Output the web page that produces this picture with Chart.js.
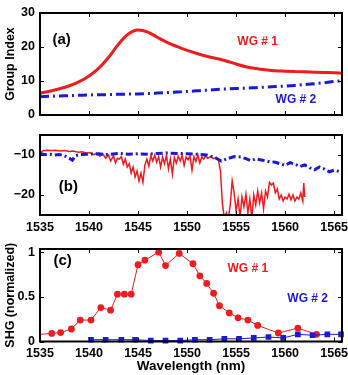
<!DOCTYPE html>
<html><head><meta charset="utf-8">
<script src="https://cdn.jsdelivr.net/npm/chart.js@4.4.1/dist/chart.umd.min.js"></script>
<style>
html,body{margin:0;padding:0;background:#fff;width:348px;height:375px;overflow:hidden}
canvas{position:absolute;left:0}
</style></head><body>
<canvas id="ca" width="348" height="125" style="top:0px"></canvas>
<canvas id="cb" width="348" height="110" style="top:125px"></canvas>
<canvas id="cc" width="348" height="140" style="top:235px"></canvas>
<script>
// ---------- DATA ----------
const xTickValues = [1535, 1540, 1545, 1550, 1555, 1560, 1565];

// (a) group index
const wavelengthA = [1535,1536,1537,1538,1539,1540,1541,1542,1543,1544,1545,1546,1547,1548,1549,1550,1551,1552,1553,1554,1555,1556,1557,1558,1559,1560,1561,1562,1563,1564,1565,1565.8];
const groupIndexWG1 = [6.4,7.0,7.7,8.6,9.8,11.5,13.8,17.0,20.8,23.8,25.0,24.4,22.8,21.3,20.1,19.0,18.1,17.3,16.6,15.9,15.0,14.2,13.7,13.3,13.0,12.9,12.8,12.7,12.6,12.5,12.4,12.3];
const groupIndexWG2 = [5.4,5.5,5.6,5.7,5.8,5.9,5.95,6.0,6.1,6.15,6.2,6.3,6.45,6.6,6.75,6.9,7.1,7.3,7.5,7.65,7.8,7.9,8.05,8.2,8.35,8.5,8.7,8.95,9.2,9.5,9.85,10.1];
const yTicksA = [0, 10, 20, 30];

// (b) transmission (dB)
const wavelengthB1 = [1535.0,1535.3,1535.7,1536.2,1536.6,1537.0,1537.5,1538.0,1538.4,1538.9,1539.3,1539.7,1540.1,1540.5,1540.8,1541.1,1541.4,1541.7,1542.0,1542.2,1542.5,1542.7,1542.9,1543.1,1543.3,1543.5,1543.7,1543.9,1544.1,1544.3,1544.5,1544.7,1544.9,1545.1,1545.3,1545.5,1545.7,1545.9,1546.1,1546.3,1546.5,1546.7,1546.9,1547.1,1547.3,1547.5,1547.7,1547.9,1548.1,1548.3,1548.5,1548.7,1548.9,1549.1,1549.3,1549.5,1549.7,1549.9,1550.1,1550.3,1550.5,1550.7,1550.9,1551.1,1551.3,1551.5,1551.7,1551.9,1552.1,1552.4,1552.7,1553.0,1553.2,1553.4,1553.6,1553.8,1554.0,1554.2,1554.4,1554.6,1554.8,1555.0,1555.2,1555.4,1555.6,1555.8,1556.0,1556.2,1556.4,1556.6,1556.8,1557.0,1557.2,1557.4,1557.6,1557.8,1558.0,1558.2,1558.4,1558.6,1558.8,1559.0,1559.2,1559.4,1559.6,1559.8,1560.0,1560.2,1560.4,1560.6,1560.8,1561.0,1561.2,1561.4,1561.6,1561.8,1561.9,1562.0];
const transmissionWG1 = [-9.6,-8.9,-8.8,-8.9,-8.8,-9.0,-8.9,-9.1,-9.0,-9.3,-9.2,-9.5,-9.4,-9.9,-9.5,-10.3,-9.7,-10.8,-10.0,-11.5,-10.2,-12.0,-10.8,-11.0,-10.4,-12.3,-11.0,-13.0,-12.2,-14.5,-13.0,-15.5,-14.0,-16.5,-14.5,-16.8,-12.5,-11.0,-12.8,-10.2,-11.5,-10.0,-11.8,-10.4,-13.0,-10.5,-12.2,-10.0,-13.5,-11.0,-14.8,-10.6,-12.0,-10.3,-11.5,-10.1,-12.6,-10.5,-11.2,-10.2,-13.8,-10.4,-11.6,-10.0,-12.0,-10.5,-11.0,-10.2,-10.8,-10.4,-10.9,-10.6,-11.2,-14.0,-22.0,-26.0,-24.5,-26.0,-22.5,-16.5,-19.5,-24.0,-21.0,-25.5,-20.5,-23.0,-19.8,-24.5,-21.0,-25.8,-20.0,-22.5,-19.0,-22.0,-19.5,-23.5,-19.0,-20.5,-16.8,-17.5,-17.0,-19.5,-18.5,-21.0,-20.0,-21.5,-20.5,-21.0,-19.8,-21.2,-20.0,-21.5,-20.5,-21.0,-19.5,-21.5,-17.0,-20.5];
const wavelengthB2 = [1535,1535.5,1536,1536.5,1537,1537.5,1538,1538.3,1538.6,1539,1540,1541,1542,1543,1544,1545,1546,1547,1548,1549,1550,1551,1552,1552.8,1553.5,1554,1554.8,1555.5,1556,1556.5,1557,1557.7,1558.3,1559,1559.5,1560,1560.5,1561,1561.5,1562,1562.5,1563,1563.5,1564,1564.5,1565,1565.8];
const transmissionWG2 = [-9.6,-9.9,-9.8,-10.0,-9.9,-10.2,-10.8,-11.3,-10.2,-9.9,-9.8,-9.7,-9.9,-9.6,-9.8,-9.7,-9.8,-9.6,-9.5,-9.6,-9.7,-9.8,-10.0,-10.6,-11.5,-11.0,-10.4,-10.5,-10.9,-11.4,-11.0,-11.3,-11.6,-11.8,-12.2,-12.6,-11.9,-12.3,-12.9,-12.5,-13.2,-13.7,-13.0,-13.5,-14.2,-13.8,-14.3];
const yTicksB = [-20, -10];

// (c) SHG (normalized)
const wavelengthC1 = [1535.0,1536.2,1537.1,1538.2,1539.1,1540.2,1541.2,1542.2,1542.9,1543.6,1544.3,1545.0,1545.7,1547.1,1547.8,1549.2,1550.6,1551.3,1552.0,1552.7,1553.3,1554.3,1555.2,1556.2,1557.2,1559.3,1561.3,1563.2];
const shgWG1 = [0.08,0.09,0.10,0.14,0.24,0.24,0.38,0.35,0.53,0.53,0.53,0.86,0.91,1.0,0.85,0.985,0.87,0.735,0.65,0.54,0.40,0.32,0.265,0.24,0.18,0.095,0.15,0.08];
const wavelengthC2 = [1540.2,1541.7,1543.3,1544.7,1546.3,1547.8,1549.3,1550.8,1552.3,1553.8,1555.3,1556.8,1558.3,1559.8,1561.3,1562.8,1564.3,1565.7];
const shgWG2 = [0.02,0.02,0.02,0.02,0.01,0.01,0.01,0.02,0.02,0.03,0.03,0.04,0.05,0.04,0.08,0.07,0.08,0.08];
const yTicksC = [0, 0.5, 1];

// text
const panelLabels = ['(a)', '(b)', '(c)'];
const seriesNames = ['WG # 1', 'WG # 2'];
const yTitles = ['Group Index', 'SHG (normalized)'];
const xTitle = 'Wavelength (nm)';

// ---------- STYLE / HELPERS ----------
const FONT = "'Liberation Sans', Arial, Helvetica, sans-serif";
const RED = '#ee1c1c';
const BLUE = '#1a1ad6';
Chart.defaults.font.family = FONT;
Chart.defaults.font.weight = 'bold';
Chart.defaults.font.size = 12;
Chart.defaults.color = '#000';

const pts = (xs, ys) => xs.map((x, i) => ({x: x, y: ys[i]}));
const minus = v => (v < 0 ? '\u2212' + Math.abs(v) : String(v));

const framePlugin = {
  id: 'frame',
  afterDraw(chart) {
    const {ctx, chartArea: a, scales} = chart;
    ctx.save();
    ctx.strokeStyle = '#000';
    ctx.lineWidth = 1;
    const L = 4;
    ctx.beginPath();
    scales.x.ticks.forEach(t => {
      const p = Math.round(scales.x.getPixelForValue(t.value)) + 0.5;
      ctx.moveTo(p, a.bottom); ctx.lineTo(p, a.bottom - L);
      ctx.moveTo(p, a.top); ctx.lineTo(p, a.top + L);
    });
    scales.y.ticks.forEach(t => {
      const p = Math.round(scales.y.getPixelForValue(t.value)) + 0.5;
      ctx.moveTo(a.left, p); ctx.lineTo(a.left + L, p);
      ctx.moveTo(a.right, p); ctx.lineTo(a.right - L, p);
    });
    ctx.stroke();
    ctx.lineWidth = 2;
    ctx.strokeRect(a.left, a.top, a.right - a.left, a.bottom - a.top);
    ctx.restore();
  }
};
const annotPlugin = {
  id: 'annot',
  afterDatasetsDraw(chart, args, opts) {
    const {ctx, scales} = chart;
    (opts.items || []).forEach(it => {
      ctx.save();
      ctx.font = 'bold ' + it.size + 'px ' + FONT;
      ctx.fillStyle = it.color;
      ctx.textAlign = 'center';
      ctx.textBaseline = 'middle';
      ctx.fillText(it.text, scales.x.getPixelForValue(it.x), scales.y.getPixelForValue(it.y));
      ctx.restore();
    });
  }
};

function xScale(height, showLabels, title) {
  return {
    type: 'linear', min: 1535, max: 1565.8,
    afterBuildTicks: s => { s.ticks = xTickValues.map(v => ({value: v})); },
    grid: {display: false, drawTicks: false, tickLength: 0},
    border: {display: false},
    ticks: {display: showLabels, padding: 5, maxRotation: 0, autoSkip: false, font: {size: 12.5, weight: 'bold'}, color: '#000',
            callback: v => String(v)},
    title: title ? {display: true, text: title, font: {size: 13.5, weight: 'bold'}, color: '#000', padding: {top: 0, bottom: 1}} : {display: false},
    afterFit: s => { s.height = height; s.paddingLeft = 0; s.paddingRight = 0; }
  };
}
function yScale(min, max, ticks, title, fmt) {
  return {
    type: 'linear', position: 'left', min: min, max: max,
    afterBuildTicks: s => { s.ticks = ticks.map(v => ({value: v})); },
    grid: {display: false, drawTicks: false, tickLength: 0},
    border: {display: false},
    ticks: {padding: 5, font: {size: 12.5, weight: 'bold'}, color: '#000', callback: fmt || (v => String(v))},
    title: title ? {display: true, text: title, font: {size: 12.5, weight: 'bold'}, color: '#000', padding: {top: 3, bottom: 0}} : {display: false},
    afterFit: s => { s.width = 40; s.paddingTop = 0; s.paddingBottom = 0; }
  };
}
const common = {
  responsive: false, animation: false, devicePixelRatio: 1,
  events: [],
  elements: {point: {radius: 0}},
};

// ---------- (a) ----------
new Chart(document.getElementById('ca'), {
  type: 'line',
  data: {datasets: [
    {data: pts(wavelengthA, groupIndexWG2), borderColor: BLUE, borderWidth: 3, borderDash: [9, 4, 2, 4], cubicInterpolationMode: 'monotone', pointRadius: 0},
    {data: pts(wavelengthA, groupIndexWG1), borderColor: RED, borderWidth: 3, cubicInterpolationMode: 'monotone', pointRadius: 0}
  ]},
  options: Object.assign({}, common, {
    layout: {padding: {top: 13, right: 6, bottom: 10, left: 0}},
    scales: {x: xScale(0, false, null), y: yScale(0, 30, yTicksA, yTitles[0])},
    plugins: {legend: {display: false}, tooltip: {enabled: false},
      annot: {items: [
        {text: panelLabels[0], x: 1537.2, y: 22.1, color: '#000', size: 15},
        {text: seriesNames[0], x: 1557.2, y: 21.6, color: RED, size: 12},
        {text: seriesNames[1], x: 1561.1, y: 4.4, color: BLUE, size: 12}
      ]}}
  }),
  plugins: [framePlugin, annotPlugin]
});

// ---------- (b) ----------
new Chart(document.getElementById('cb'), {
  type: 'line',
  data: {datasets: [
    {data: pts(wavelengthB2, transmissionWG2), borderColor: BLUE, borderWidth: 3, borderDash: [7, 3, 2, 3], tension: 0, pointRadius: 0},
    {data: pts(wavelengthB1, transmissionWG1), borderColor: RED, borderWidth: 1.5, tension: 0, pointRadius: 0}
  ]},
  options: Object.assign({}, common, {
    layout: {padding: {top: 10, right: 6, bottom: 0, left: 0}},
    scales: {x: xScale(20, true, null), y: yScale(-25, -5, yTicksB, null, minus)},
    plugins: {legend: {display: false}, tooltip: {enabled: false},
      annot: {items: [
        {text: panelLabels[1], x: 1537.9, y: -18, color: '#000', size: 15}
      ]}}
  }),
  plugins: [framePlugin, annotPlugin]
});

// ---------- (c) ----------
new Chart(document.getElementById('cc'), {
  type: 'line',
  data: {datasets: [
    {data: pts(wavelengthC2, shgWG2), borderColor: BLUE, backgroundColor: BLUE, borderWidth: 1, tension: 0,
     pointStyle: 'rect', pointRadius: 4, pointBorderWidth: 0, clip: 6},
    {data: pts(wavelengthC1, shgWG1), borderColor: RED, backgroundColor: RED, borderWidth: 1, tension: 0,
     pointStyle: 'circle', pointRadius: c => (c.dataIndex === 0 ? 0 : 3.4), pointBorderWidth: 0}
  ]},
  options: Object.assign({}, common, {
    layout: {padding: {top: 14, right: 6, bottom: 0, left: 0}},
    scales: {x: xScale(33.5, true, xTitle), y: yScale(0, 1.035, yTicksC, yTitles[1])},
    plugins: {legend: {display: false}, tooltip: {enabled: false},
      annot: {items: [
        {text: panelLabels[2], x: 1537.3, y: 0.9, color: '#000', size: 15},
        {text: seriesNames[0], x: 1556.2, y: 0.82, color: RED, size: 12},
        {text: seriesNames[1], x: 1562.3, y: 0.48, color: BLUE, size: 12}
      ]}}
  }),
  plugins: [framePlugin, annotPlugin]
});
</script>
</body></html>
